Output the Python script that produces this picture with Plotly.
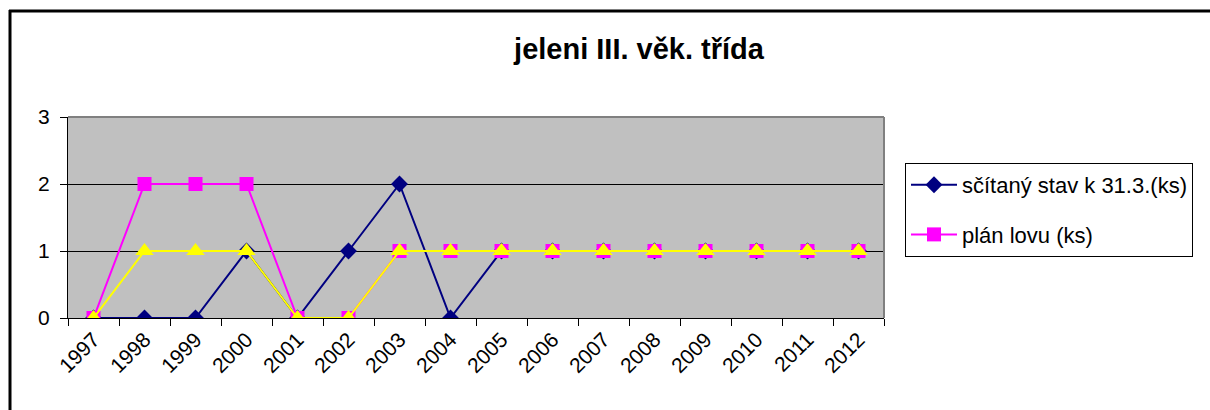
import plotly.graph_objects as go

years = ["1997", "1998", "1999", "2000", "2001", "2002", "2003", "2004",
         "2005", "2006", "2007", "2008", "2009", "2010", "2011", "2012"]
scitany_stav = [0, 0, 0, 1, 0, 1, 2, 0, 1, 1, 1, 1, 1, 1, 1, 1]
plan_lovu = [0, 2, 2, 2, 0, 0, 1, 1, 1, 1, 1, 1, 1, 1, 1, 1]
skutecny_lov = [0, 1, 1, 1, 0, 0, 1, 1, 1, 1, 1, 1, 1, 1, 1, 1]

W, H = 1210, 410
L, R, T, B = 68, 884, 117, 318  # plot area in pixels

fig = go.Figure()
fig.add_trace(go.Scatter(
    x=years, y=scitany_stav, name="sčítaný stav k 31.3.(ks)", mode="lines+markers",
    line=dict(color="#000080", width=2),
    marker=dict(symbol="diamond", size=13, color="#000080"),
    legendgroup="a"))
fig.add_trace(go.Scatter(
    x=years, y=plan_lovu, name="plán lovu (ks)", mode="lines+markers",
    line=dict(color="#FF00FF", width=2),
    marker=dict(symbol="square", size=14, color="#FF00FF"),
    legendgroup="b"))
fig.add_trace(go.Scatter(
    x=years, y=skutecny_lov, name="skutečný lov (ks)", mode="lines+markers",
    line=dict(color="#FFFF00", width=2),
    marker=dict(symbol="triangle-up", size=16, color="#FFFF00"),
    showlegend=False, legendgroup="c"))

def px_x(x):
    return (x - L) / (R - L)

def px_y(y):
    return (B - y) / (B - T)

shapes = [
    # plot area top/right border (gray)
    dict(type="line", xref="paper", yref="paper", x0=0, x1=1, y0=1, y1=1,
         line=dict(color="#808080", width=2)),
    dict(type="line", xref="paper", yref="paper", x0=1, x1=1, y0=0, y1=1,
         line=dict(color="#808080", width=2)),
    # outer chart frame (top & left)
    dict(type="line", xref="paper", yref="paper", x0=px_x(9), x1=px_x(1215),
         y0=px_y(11), y1=px_y(11), line=dict(color="black", width=3)),
    dict(type="line", xref="paper", yref="paper", x0=px_x(10), x1=px_x(10),
         y0=px_y(10), y1=px_y(420), line=dict(color="black", width=3)),
]

fig.update_layout(
    width=W, height=H,
    margin=dict(l=L, r=W - R, t=T, b=H - B, pad=0, autoexpand=False),
    paper_bgcolor="white", plot_bgcolor="#C0C0C0",
    font=dict(family="Liberation Sans, Arial, sans-serif", size=20, color="black"),
    title=dict(text="<b>jeleni III. věk. třída</b>", x=639 / W, xanchor="center",
               y=1 - 49 / H, yanchor="middle", xref="container", yref="container",
               font=dict(size=29, color="black")),
    showlegend=True,
    legend=dict(x=px_x(905), y=px_y(163), xanchor="left", yanchor="top",
                bordercolor="black", borderwidth=1, bgcolor="white",
                font=dict(size=22), traceorder="grouped", tracegroupgap=18,
                itemwidth=46),
    shapes=shapes,
)
fig.update_xaxes(type="category", range=[-0.5, 15.5], tickson="boundaries",
                 ticks="outside", ticklen=7, tickcolor="black",
                 showline=True, linecolor="black", linewidth=1,
                 showgrid=False, tickangle=-45, fixedrange=True,
                 tickfont=dict(size=21))
fig.update_yaxes(range=[0, 3], dtick=1, tick0=0, ticks="outside", ticklen=7,
                 tickcolor="black", showline=True, linecolor="black", linewidth=1,
                 showgrid=True, gridcolor="black", gridwidth=1, zeroline=False,
                 ticklabelstandoff=6, fixedrange=True, tickfont=dict(size=21))

fig.write_html("out.html", config=dict(displayModeBar=False),
               post_script="document.body.style.margin='0';document.body.style.overflow='hidden';")
